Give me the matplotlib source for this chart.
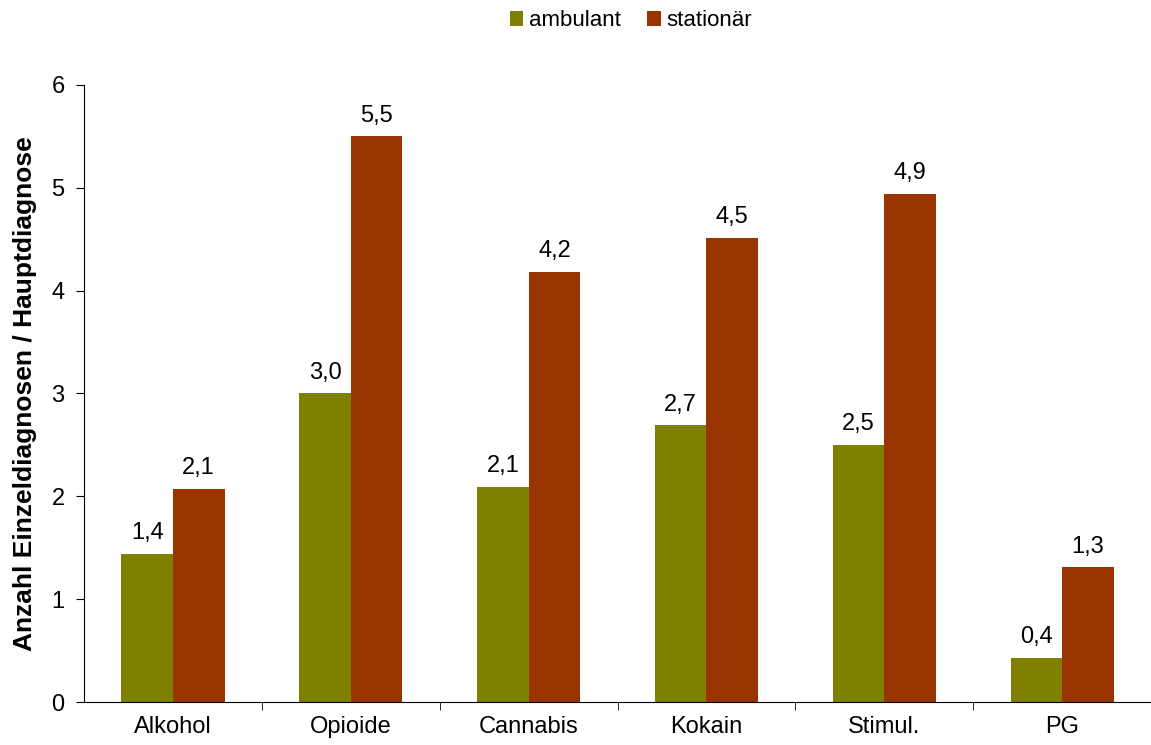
import matplotlib
matplotlib.use("Agg")
import matplotlib.pyplot as plt
import numpy as np

categories = ["Alkohol", "Opioide", "Cannabis", "Kokain", "Stimul.", "PG"]
ambulant = [1.44, 3.0, 2.09, 2.69, 2.50, 0.43]
stationaer = [2.07, 5.50, 4.18, 4.51, 4.94, 1.31]
series_names = ["ambulant", "stationär"]
colors = ["#808000", "#993300"]

plt.rcParams['font.family'] = ['Liberation Sans', 'DejaVu Sans']

fig = plt.figure(figsize=(11.51, 7.45), dpi=100)
ax = fig.add_axes([0.073, 0.0577, 0.927, 0.8283])

x = np.arange(len(categories))
w = 0.29
b1 = ax.bar(x - w/2, ambulant, w, color=colors[0], label=series_names[0])
b2 = ax.bar(x + w/2, stationaer, w, color=colors[1], label=series_names[1])

for bars, vals in [(b1, ambulant), (b2, stationaer)]:
    for rect, v in zip(bars, vals):
        ax.annotate(f"{v:.1f}".replace(".", ","),
                    (rect.get_x() + rect.get_width()/2, rect.get_height()),
                    xytext=(0, 7), textcoords="offset points",
                    ha="center", va="bottom", fontsize=17)

ax.set_xlim(-0.5, len(categories) - 0.5)
ax.set_ylim(0, 6)
ax.set_yticks(range(0, 7))
ax.tick_params(axis='y', labelsize=17, direction='out', length=6, pad=8)
ax.set_xticks(x)
ax.set_xticklabels(categories, fontsize=17)
ax.tick_params(axis='x', length=0, pad=10)
ax.set_xticks(np.arange(0.5, len(categories) - 0.5, 1), minor=True)
ax.tick_params(axis='x', which='minor', length=6, direction='out')
for s in ["top", "right"]:
    ax.spines[s].set_visible(False)
ax.set_ylabel("Anzahl Einzeldiagnosen / Hauptdiagnose", fontsize=19, fontweight='bold', labelpad=10)

fig.legend(loc="upper center", bbox_to_anchor=(0.548, 1.013), ncol=2, frameon=False,
           fontsize=16, handlelength=0.6, handleheight=0.6, handletextpad=0.25, columnspacing=1.2)

fig.savefig("out.png", dpi=100)
